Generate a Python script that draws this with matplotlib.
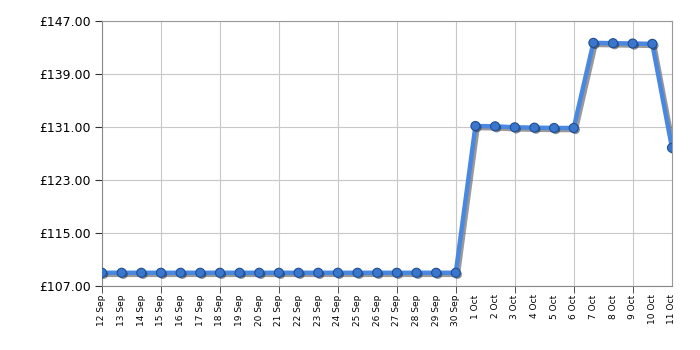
import numpy as np
import matplotlib
matplotlib.use("Agg")
import matplotlib.pyplot as plt
import matplotlib.patheffects as pe

dates = ['12 Sep', '13 Sep', '14 Sep', '15 Sep', '16 Sep', '17 Sep', '18 Sep',
         '19 Sep', '20 Sep', '21 Sep', '22 Sep', '23 Sep', '24 Sep', '25 Sep',
         '26 Sep', '27 Sep', '28 Sep', '29 Sep', '30 Sep', '1 Oct', '2 Oct',
         '3 Oct', '4 Oct', '5 Oct', '6 Oct', '7 Oct', '8 Oct', '9 Oct',
         '10 Oct', '11 Oct']
prices = [108.99] * 19 + [131.15, 131.10, 130.95, 130.90, 130.85, 130.85,
                          143.70, 143.65, 143.60, 143.55, 127.85]
yticks = [107, 115, 123, 131, 139, 147]

x = np.arange(len(dates))

fig = plt.figure(figsize=(7, 3.5), dpi=100)
ax = fig.add_axes([0.1457, 0.183, 0.8143, 0.757])

shadow = [pe.SimpleLineShadow(offset=(1.5, -1.5), shadow_color='#555555', alpha=0.6),
          pe.Normal()]
ax.plot(x, prices, color='#4a88e0', lw=3.2, solid_joinstyle='round',
        path_effects=shadow, zorder=3)
ax.plot(x, prices, 'o', ms=6.5, color='#3a76cc', mec='#1f4f94', mew=0.8,
        path_effects=[pe.SimplePatchShadow(offset=(1.2, -1.2), alpha=0.5), pe.Normal()],
        zorder=4)

ax.set_xlim(0, len(dates) - 1)
ax.set_ylim(107, 147)

ax.set_yticks(yticks)
ax.set_yticklabels(['£%.2f' % v for v in yticks], fontsize=9)

# labels on every day, grid + tick marks every third day
ax.xaxis.remove_overlapping_locs = False
ax.set_xticks(x)
ax.set_xticklabels(dates, rotation=90, fontsize=6.5)
ax.set_xticks(x[::3], minor=True)
ax.tick_params(axis='x', which='major', length=0, pad=6)
ax.tick_params(axis='x', which='minor', length=5, color='#333333')
ax.tick_params(axis='y', length=5, color='#333333', pad=3)

ax.grid(True, which='minor', axis='x', color='#c8c8c8', lw=0.8)
ax.grid(True, which='major', axis='y', color='#c8c8c8', lw=0.8)
ax.set_axisbelow(True)

for s in ax.spines.values():
    s.set_color('#999999')
    s.set_linewidth(0.8)
ax.spines['left'].set_color('#888888')
ax.spines['bottom'].set_color('#888888')

fig.savefig('out.png', dpi=100)
